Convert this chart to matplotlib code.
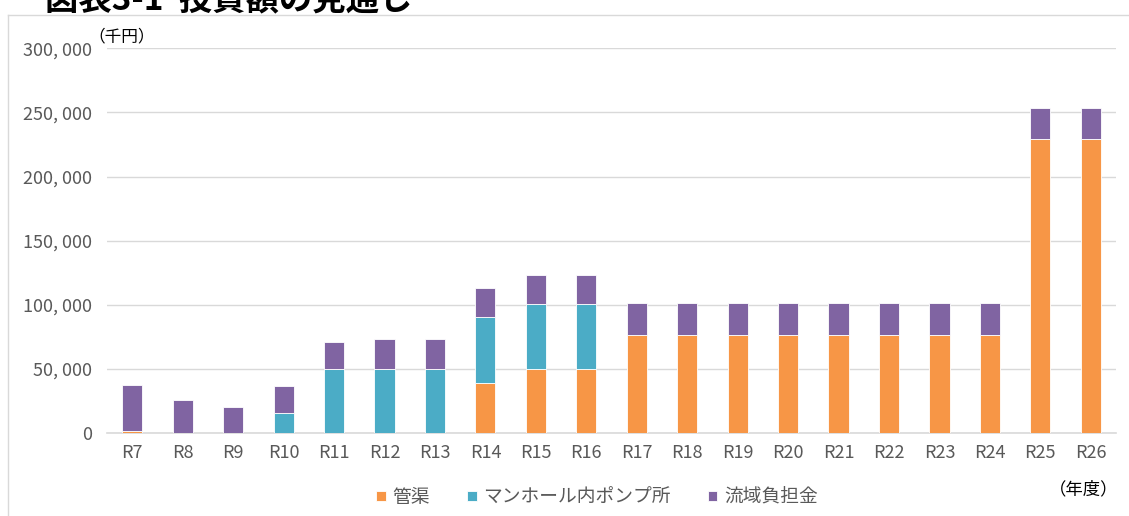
import matplotlib.pyplot as plt
from matplotlib.lines import Line2D
from matplotlib.ticker import FuncFormatter

plt.rcParams['font.family'] = ['Noto Sans CJK JP', 'DejaVu Sans']

years = ['R7', 'R8', 'R9', 'R10', 'R11', 'R12', 'R13', 'R14', 'R15', 'R16',
         'R17', 'R18', 'R19', 'R20', 'R21', 'R22', 'R23', 'R24', 'R25', 'R26']
pipes = [1500, 0, 0, 0, 0, 0, 0, 39500, 50000, 50000,
         76500, 76500, 76500, 76500, 76500, 76500, 76500, 76500, 229000, 229000]
pumps = [0, 0, 0, 15600, 50000, 50000, 50000, 51000, 50500, 50500,
         0, 0, 0, 0, 0, 0, 0, 0, 0, 0]
basin = [36200, 26000, 20300, 21300, 21100, 23100, 23100, 22700, 22900, 22900,
         25000, 25000, 25000, 25000, 25000, 25000, 25000, 25000, 24800, 24800]

labels = ['管渠', 'マンホール内ポンプ所', '流域負担金']
colors = ['#F79646', '#4BACC6', '#8064A2']
grey = '#595959'
grid = '#d9d9d9'

fig = plt.figure(figsize=(11.29, 5.16), dpi=100)
ax = fig.add_axes([0.0948, 0.1603, 0.8937, 0.7461])

x = range(len(years))
bottom2 = [a + b for a, b in zip(pipes, pumps)]
kw = dict(width=0.4, edgecolor='#ffffff', linewidth=0.6, zorder=3)
ax.bar(x, pipes, color=colors[0], label=labels[0], **kw)
ax.bar(x, pumps, bottom=pipes, color=colors[1], label=labels[1], **kw)
ax.bar(x, basin, bottom=bottom2, color=colors[2], label=labels[2], **kw)

ax.set_xlim(-0.5, len(years) - 0.5)
ax.set_ylim(0, 300000)
ax.set_yticks(range(0, 300001, 50000))
ax.yaxis.set_major_formatter(FuncFormatter(
    lambda v, p: '0' if v == 0 else f'{int(v):,}'.replace(',', ', ')))
ax.set_xticks(list(x))
ax.set_xticklabels(years)
ax.grid(axis='y', color=grid, linewidth=1, zorder=0)
for s in ['top', 'right', 'left']:
    ax.spines[s].set_visible(False)
ax.spines['bottom'].set_color(grid)
ax.spines['bottom'].set_linewidth(1.2)
ax.tick_params(length=0, labelsize=13, colors=grey)
ax.tick_params(axis='x', pad=8)
ax.tick_params(axis='y', pad=11)

# unit labels
fig.text(88 / 1129, 1 - 37 / 516, '（千円）', fontsize=12, color='#000000',
         ha='left', va='center')
fig.text(1118 / 1129, 1 - 489 / 516, '（年度）', fontsize=12.5, color='#000000',
         ha='right', va='center')

# title partly cut off at top, as in the source
fig.text(45 / 1129, 1 - 9 / 516, '図表3-1  投資額の見通し', fontsize=24,
         fontweight='bold', color='#000000', ha='left', va='baseline')

# chart frame
fig.add_artist(Line2D([8 / 1129, 8 / 1129], [0, 1 - 15 / 516],
                      transform=fig.transFigure, color=grid, lw=1))
fig.add_artist(Line2D([8 / 1129, 1], [1 - 15 / 516, 1 - 15 / 516],
                      transform=fig.transFigure, color=grid, lw=1))

leg = fig.legend(loc='center', bbox_to_anchor=(597 / 1129, 1 - 497 / 516), ncol=3,
                 frameon=False, fontsize=13.5, handlelength=0.5, handleheight=0.5,
                 handletextpad=0.35, columnspacing=2.0)
for t in leg.get_texts():
    t.set_color(grey)

fig.savefig('out.png', dpi=100)
